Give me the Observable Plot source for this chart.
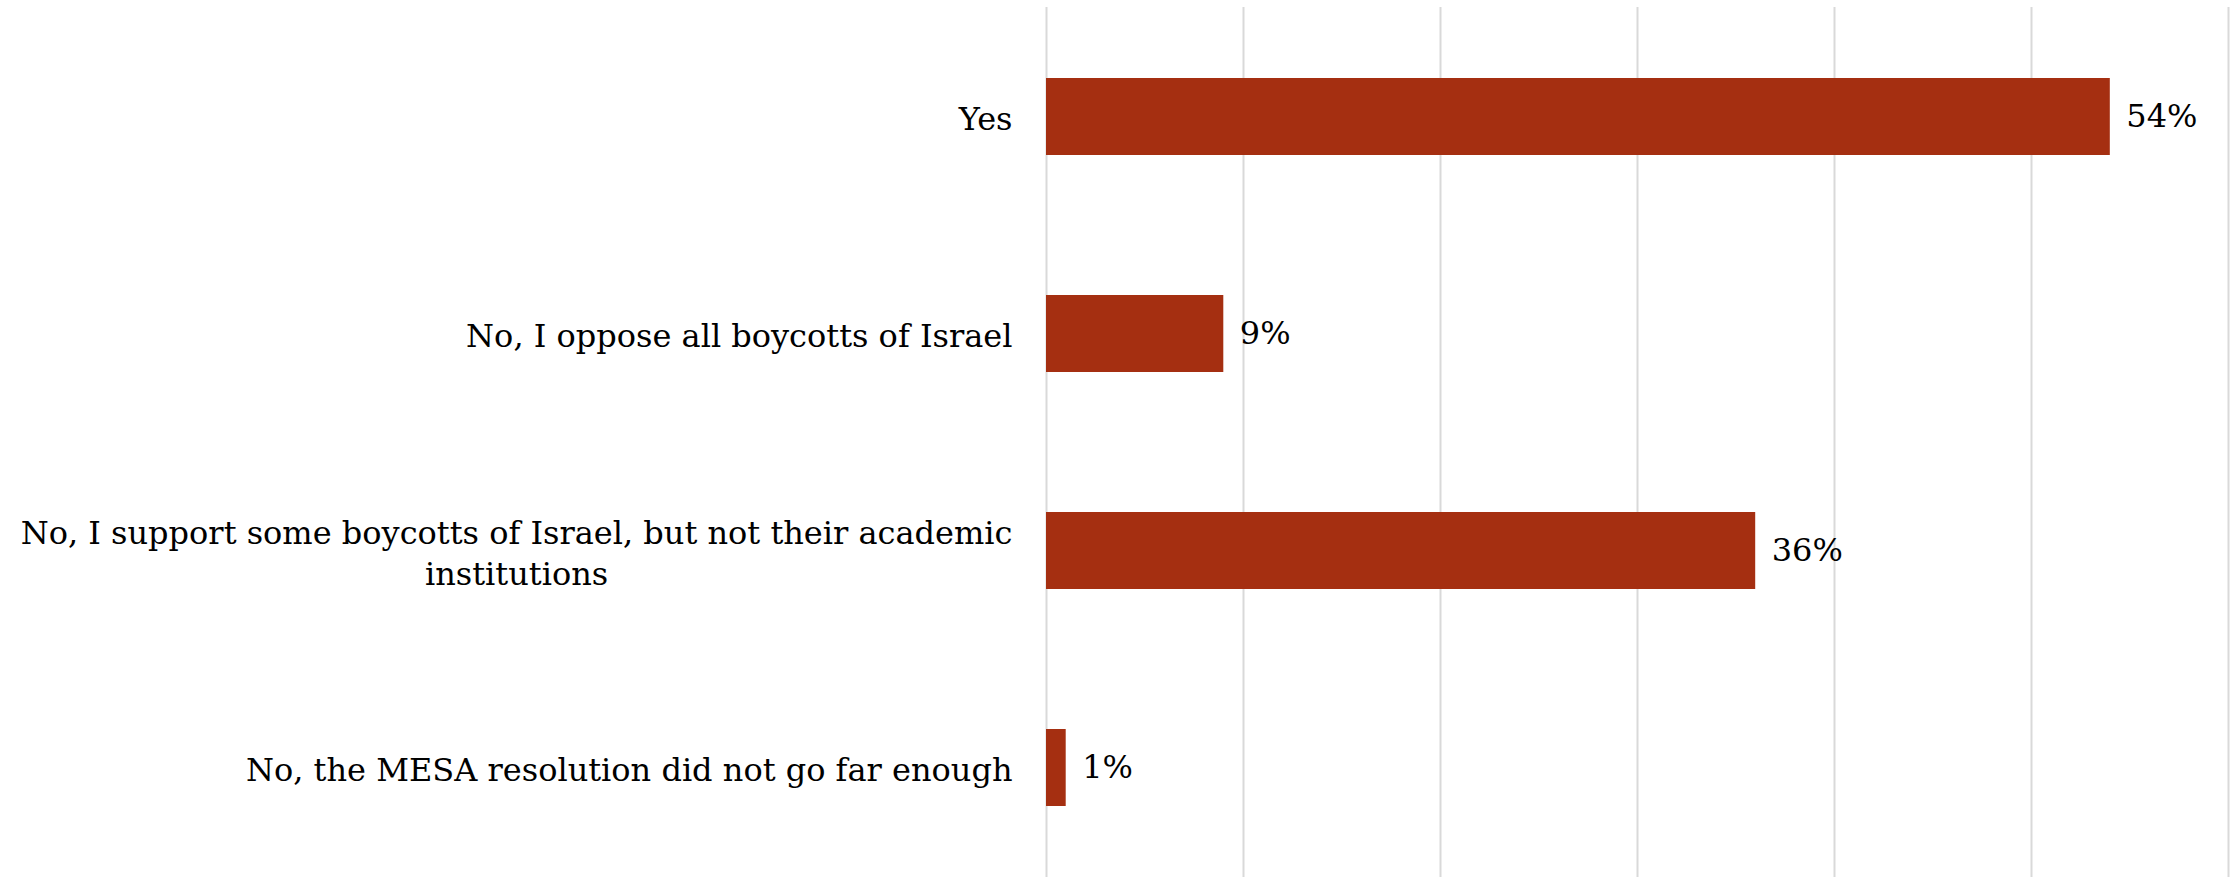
<!DOCTYPE html>
<html>
<head>
<meta charset="utf-8">
<script src="https://cdn.jsdelivr.net/npm/d3@7"></script>
<script src="https://cdn.jsdelivr.net/npm/@observablehq/plot@0.6"></script>
<style>
  html, body { margin: 0; padding: 0; background: #ffffff; }
  #chart svg { display: block; }
</style>
</head>
<body>
<div id="chart"></div>
<script>
const categories = [
  "Yes",
  "No, I oppose all boycotts of Israel",
  "No, I support some boycotts of Israel, but not their academic\ninstitutions",
  "No, the MESA resolution did not go far enough"
];
const values = [54, 9, 36, 1];
const gridTicks = [0, 10, 20, 30, 40, 50, 60];

const data = categories.map((c, i) => ({category: c, value: values[i]}));

const FONT = "'DejaVu Serif', serif";
const FS = 32;
const ctx = document.createElement("canvas").getContext("2d");
ctx.font = `${FS}px ${FONT}`;
const blockWidth = s => Math.max(...s.split("\n").map(l => ctx.measureText(l).width));

const labelMarks = data.map(d =>
  Plot.text([d], {
    y: "category",
    text: "category",
    frameAnchor: "left",
    dx: -34 - blockWidth(d.category) / 2,
    textAnchor: "middle",
    lineHeight: 1.3,
    fontSize: FS,
    fill: "#000"
  })
);

const chart = Plot.plot({
  width: 2239,
  height: 877,
  marginLeft: 1046,
  marginRight: 11,
  marginTop: 7,
  marginBottom: 0,
  style: {fontFamily: FONT, fontSize: FS + "px", color: "#000", background: "#fff"},
  x: {domain: [0, 60], axis: null},
  y: {domain: categories, axis: null, paddingInner: 0.647, paddingOuter: 0.319},
  marks: [
    Plot.ruleX(gridTicks, {x: d => d, stroke: "#d9d9d9", strokeWidth: 2, strokeOpacity: 1}),
    Plot.barX(data, {x: "value", y: "category", fill: "#a52f11"}),
    Plot.text(data, {x: "value", y: "category", text: d => d.value + "%", dx: 16, textAnchor: "start", fontSize: FS, fill: "#000"}),
    ...labelMarks
  ]
});
document.getElementById("chart").appendChild(chart);
</script>
</body>
</html>
